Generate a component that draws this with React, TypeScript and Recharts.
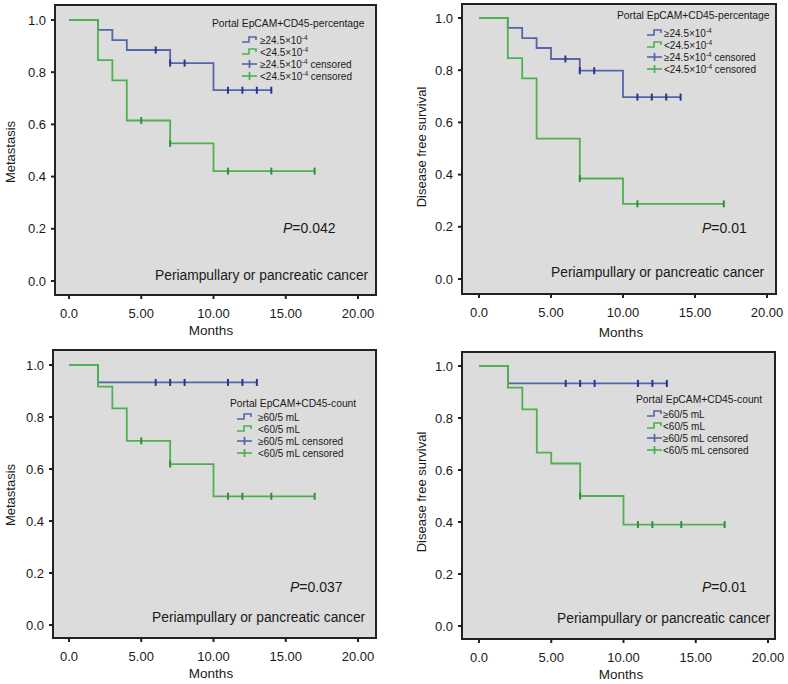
import { LineChart, Line, XAxis, YAxis, CartesianGrid } from "recharts";

type Pt = [number, number];

// Kaplan-Meier steps: [month, proportion]
const pctMetHigh: Pt[] = [[0, 1], [2, 0.962], [3, 0.923], [4, 0.885], [7, 0.835], [10, 0.731]];
const pctMetHighCens = [6, 7, 8, 11, 12, 13, 14];
const pctMetLow: Pt[] = [[0, 1], [2, 0.846], [3, 0.769], [4, 0.615], [7, 0.527], [10, 0.421]];
const pctMetLowCens = [5, 7, 11, 14, 17];

const pctDfsHigh: Pt[] = [[0, 1], [2, 0.962], [3, 0.923], [4, 0.885], [5, 0.843], [7, 0.798], [10, 0.697]];
const pctDfsHighCens = [6, 7, 8, 11, 12, 13, 14];
const pctDfsLow: Pt[] = [[0, 1], [2, 0.846], [3, 0.769], [4, 0.538], [7, 0.385], [10, 0.288]];
const pctDfsLowCens = [7, 11, 17];

const cntMetHigh: Pt[] = [[0, 1], [2, 0.933]];
const cntMetHighCens = [6, 7, 8, 11, 12, 13];
const cntMetLow: Pt[] = [[0, 1], [2, 0.917], [3, 0.833], [4, 0.708], [7, 0.619], [10, 0.495]];
const cntMetLowCens = [5, 7, 11, 12, 14, 17];

const cntDfsHigh: Pt[] = [[0, 1], [2, 0.933]];
const cntDfsHighCens = [6, 7, 8, 11, 12, 13];
const cntDfsLow: Pt[] = [[0, 1], [2, 0.917], [3, 0.833], [4, 0.667], [5, 0.625], [7, 0.5], [10, 0.39]];
const cntDfsLowCens = [7, 11, 12, 14, 17];

const X_TICKS = [0, 5, 10, 15, 20];
const Y_TICKS = [0, 0.2, 0.4, 0.6, 0.8, 1.0];

const pctTitle = "Portal EpCAM+CD45-percentage";
const pctGroups = ["≥24.5×10", "<24.5×10"];
const cntTitle = "Portal EpCAM+CD45-count";
const cntGroups = ["≥60/5 mL", "<60/5 mL"];

const FONT = '"Liberation Sans", Arial, sans-serif';
const BLUE = "#5565a8";
const BLUE_DARK = "#27358c";
const GREEN = "#4fb04f";
const GREEN_DARK = "#2f8f3c";
const INK = "#1a1a1a";
const EDGE = "#222222";

const W = 394;
const H = 342;
const Y_W = 40;
const X_H = 40;

function buildSeries(events: Pt[], censored: number[]) {
  const rows = events.map(([t, s]) => ({ t, s, c: false }));
  censored.forEach((ct) => {
    const hit = rows.find((r) => r.t === ct);
    if (hit) {
      hit.c = true;
      return;
    }
    const prev = events.filter(([t]) => t <= ct).pop()!;
    rows.push({ t: ct, s: prev[1], c: true });
  });
  return rows.sort((a, b) => a.t - b.t);
}

const censorDot = (color: string) => (props: any) => {
  const { cx, cy, payload, index } = props;
  if (!payload?.c) return <g key={`n${index}`} />;
  return (
    <line
      key={`c${index}`}
      x1={cx}
      x2={cx}
      y1={cy - 3.5}
      y2={cy + 3.5}
      stroke={color}
      strokeWidth={2}
    />
  );
};

const fmtX = (v: number) => (v === 0 ? "0.0" : v.toFixed(2));
const fmtY = (v: number) => v.toFixed(1);

interface LegendPos {
  tx: number;
  ty: number;
  ix: number;
  tx2: number;
  iy: number;
}

interface BoxGeom {
  a: number;
  b: number;
  c: number;
  d: number;
  xs: number[];
  ys: number[];
}

// legend block plus the plot frame and its outward tick marks
function KMOverlay({ pos, title, groups, sup, box }: { pos: LegendPos; title: string; groups: string[]; sup: boolean; box: BoxGeom }) {
  const rows = [
    { label: groups[0], color: BLUE, cens: false },
    { label: groups[1], color: GREEN, cens: false },
    { label: groups[0], color: BLUE, cens: true },
    { label: groups[1], color: GREEN, cens: true },
  ];
  const { a, b, c, d, xs, ys } = box;
  return (
    <g fontFamily={FONT} fill={INK}>
      <polyline
        points={`${a},${b} ${c},${b} ${c},${d} ${a},${d} ${a},${b - 1}`}
        fill="none"
        stroke={EDGE}
        strokeWidth={2}
      />
      {xs.map((x, i) => (
        <line key={`x${i}`} x1={x} x2={x} y1={d} y2={d + 4} stroke={EDGE} strokeWidth={2} />
      ))}
      {ys.map((y, i) => (
        <line key={`y${i}`} x1={a - 4} x2={a} y1={y} y2={y} stroke={EDGE} strokeWidth={2} />
      ))}
      <text x={pos.tx} y={pos.ty + 3.5} fontSize={10.3}>
        {title}
      </text>
      {rows.map((r, i) => {
        const y = pos.iy + i * 12;
        return (
          <g key={i}>
            {r.cens ? (
              <>
                <line x1={pos.ix} x2={pos.ix + 15} y1={y} y2={y} stroke={r.color} strokeWidth={1.6} />
                <line x1={pos.ix + 7.5} x2={pos.ix + 7.5} y1={y - 4} y2={y + 4} stroke={r.color} strokeWidth={1.8} />
              </>
            ) : (
              <path
                d={`M${pos.ix},${y + 2} h7 v-5 h7 v3`}
                fill="none"
                stroke={r.color}
                strokeWidth={1.6}
              />
            )}
            <text x={pos.tx2} y={y + 3.5} fontSize={10}>
              {r.label}
              {sup && (
                <tspan dy={-4} fontSize={6.5}>
                  -4
                </tspan>
              )}
              {r.cens && <tspan dy={sup ? 4 : 0}>{" censored"}</tspan>}
            </text>
          </g>
        );
      })}
    </g>
  );
}

interface PanelCfg {
  high: Pt[];
  highCens: number[];
  low: Pt[];
  lowCens: number[];
  yLabel: string;
  pText: string;
  margin: { top: number; right: number; left: number; bottom: number };
  xPad: { left: number; right: number };
  yPad: { top: number; bottom: number };
  yLabelPos: [number, number];
  monthsPos: [number, number];
  pPos: [number, number];
  cancerPos: [number, number];
  legend: LegendPos;
  title: string;
  groups: string[];
  sup: boolean;
}

function KMPanel({ cfg }: { cfg: PanelCfg }) {
  const high = buildSeries(cfg.high, cfg.highCens);
  const low = buildSeries(cfg.low, cfg.lowCens);
  const m = cfg.margin;
  const left = m.left + Y_W;
  const top = m.top;
  const right = W - m.right;
  const bottom = H - m.bottom - X_H;

  // tick positions follow the axes' linear mapping (range minus padding)
  const x0 = left + cfg.xPad.left;
  const x1 = right - cfg.xPad.right;
  const y0 = bottom - cfg.yPad.bottom;
  const y1 = top + cfg.yPad.top;
  const box: BoxGeom = {
    a: left,
    b: top,
    c: right,
    d: bottom,
    xs: X_TICKS.map((v) => x0 + ((x1 - x0) * v) / 20),
    ys: Y_TICKS.map((v) => y0 - (y0 - y1) * v),
  };

  const xTick = (props: any) => (
    <text
      x={props.x}
      y={bottom + 18}
      textAnchor="middle"
      dominantBaseline="central"
      fontFamily={FONT}
      fontSize={13}
      fill={INK}
    >
      {fmtX(props.payload.value)}
    </text>
  );

  const yTick = (props: any) => (
    <text
      x={left - 9}
      y={props.y}
      textAnchor="end"
      dominantBaseline="central"
      fontFamily={FONT}
      fontSize={13}
      fill={INK}
    >
      {fmtY(props.payload.value)}
    </text>
  );

  return (
    <LineChart width={W} height={H} margin={m}>
      <CartesianGrid fill="#dcdcdc" horizontal={false} vertical={false} />
      <XAxis
        type="number"
        dataKey="t"
        domain={[0, 20]}
        ticks={X_TICKS}
        padding={cfg.xPad}
        tick={xTick}
        stroke={EDGE}
        tickLine={false}
        height={X_H}
      />
      <YAxis
        type="number"
        domain={[0, 1]}
        ticks={Y_TICKS}
        padding={cfg.yPad}
        tick={yTick}
        stroke={EDGE}
        tickLine={false}
        width={Y_W}
      />
      <Line
        data={high}
        dataKey="s"
        type="stepAfter"
        stroke={BLUE}
        strokeWidth={1.8}
        dot={censorDot(BLUE_DARK)}
        activeDot={false}
        isAnimationActive={false}
      />
      <Line
        data={low}
        dataKey="s"
        type="stepAfter"
        stroke={GREEN}
        strokeWidth={1.8}
        dot={censorDot(GREEN_DARK)}
        activeDot={false}
        isAnimationActive={false}
      />
      <text
        x={cfg.yLabelPos[0]}
        y={cfg.yLabelPos[1]}
        transform={`rotate(-90 ${cfg.yLabelPos[0]} ${cfg.yLabelPos[1]})`}
        textAnchor="middle"
        dominantBaseline="central"
        fontFamily={FONT}
        fontSize={13}
        fill={INK}
      >
        {cfg.yLabel}
      </text>
      <text
        x={cfg.monthsPos[0]}
        y={cfg.monthsPos[1] + 4.5}
        textAnchor="middle"
        fontFamily={FONT}
        fontSize={13.5}
        fill={INK}
      >
        Months
      </text>
      <text x={cfg.pPos[0]} y={cfg.pPos[1] + 5} fontFamily={FONT} fontSize={14} fill={INK}>
        <tspan fontStyle="italic">P</tspan>
        {cfg.pText}
      </text>
      <text x={cfg.cancerPos[0]} y={cfg.cancerPos[1] + 5} fontFamily={FONT} fontSize={13.8} fill={INK}>
        Periampullary or pancreatic cancer
      </text>
      <KMOverlay pos={cfg.legend} title={cfg.title} groups={cfg.groups} sup={cfg.sup} box={box} />
    </LineChart>
  );
}

const panels: PanelCfg[] = [
  {
    high: pctMetHigh, highCens: pctMetHighCens, low: pctMetLow, lowCens: pctMetLowCens,
    yLabel: "Metastasis", pText: "=0.042",
    margin: { top: 5, right: 18, left: 15, bottom: 7 },
    xPad: { left: 14, right: 18 }, yPad: { top: 15, bottom: 14 },
    yLabelPos: [10, 152], monthsPos: [211, 330], pPos: [283, 228], cancerPos: [155, 275],
    legend: { tx: 212, ty: 23, ix: 242, tx2: 260, iy: 40 },
    title: pctTitle, groups: pctGroups, sup: true,
  },
  {
    high: pctDfsHigh, highCens: pctDfsHighCens, low: pctDfsLow, lowCens: pctDfsLowCens,
    yLabel: "Disease free survival", pText: "=0.01",
    margin: { top: 4, right: 12, left: 28, bottom: 8 },
    xPad: { left: 17, right: 9 }, yPad: { top: 14, bottom: 15 },
    yLabelPos: [27, 147], monthsPos: [227, 332], pPos: [308, 228], cancerPos: [157, 272],
    legend: { tx: 223, ty: 15, ix: 253, tx2: 270, iy: 33 },
    title: pctTitle, groups: pctGroups, sup: true,
  },
  {
    high: cntMetHigh, highCens: cntMetHighCens, low: cntMetLow, lowCens: cntMetLowCens,
    yLabel: "Metastasis", pText: "=0.037",
    margin: { top: 8, right: 18, left: 13, bottom: 6 },
    xPad: { left: 16, right: 18 }, yPad: { top: 15, bottom: 13 },
    yLabelPos: [10, 153], monthsPos: [211, 331], pPos: [290, 245], cancerPos: [152, 275],
    legend: { tx: 230, ty: 61, ix: 237, tx2: 258, iy: 75 },
    title: cntTitle, groups: cntGroups, sup: false,
  },
  {
    high: cntDfsHigh, highCens: cntDfsHighCens, low: cntDfsLow, lowCens: cntDfsLowCens,
    yLabel: "Disease free survival", pText: "=0.01",
    margin: { top: 10, right: 13, left: 28, bottom: 5 },
    xPad: { left: 17, right: 7 }, yPad: { top: 14, bottom: 13 },
    yLabelPos: [27, 150], monthsPos: [227, 332], pPos: [308, 245], cancerPos: [163, 276],
    legend: { tx: 242, ty: 57, ix: 253, tx2: 269, iy: 72 },
    title: cntTitle, groups: cntGroups, sup: false,
  },
];

export default function App() {
  return (
    <div style={{ position: "absolute", left: 0, top: 0, width: 788, height: 684 }}>
      {panels.map((p, i) => (
        <div
          key={i}
          style={{ position: "absolute", left: (i % 2) * W, top: Math.floor(i / 2) * H, width: W, height: H }}
        >
          <KMPanel cfg={p} />
        </div>
      ))}
    </div>
  );
}
